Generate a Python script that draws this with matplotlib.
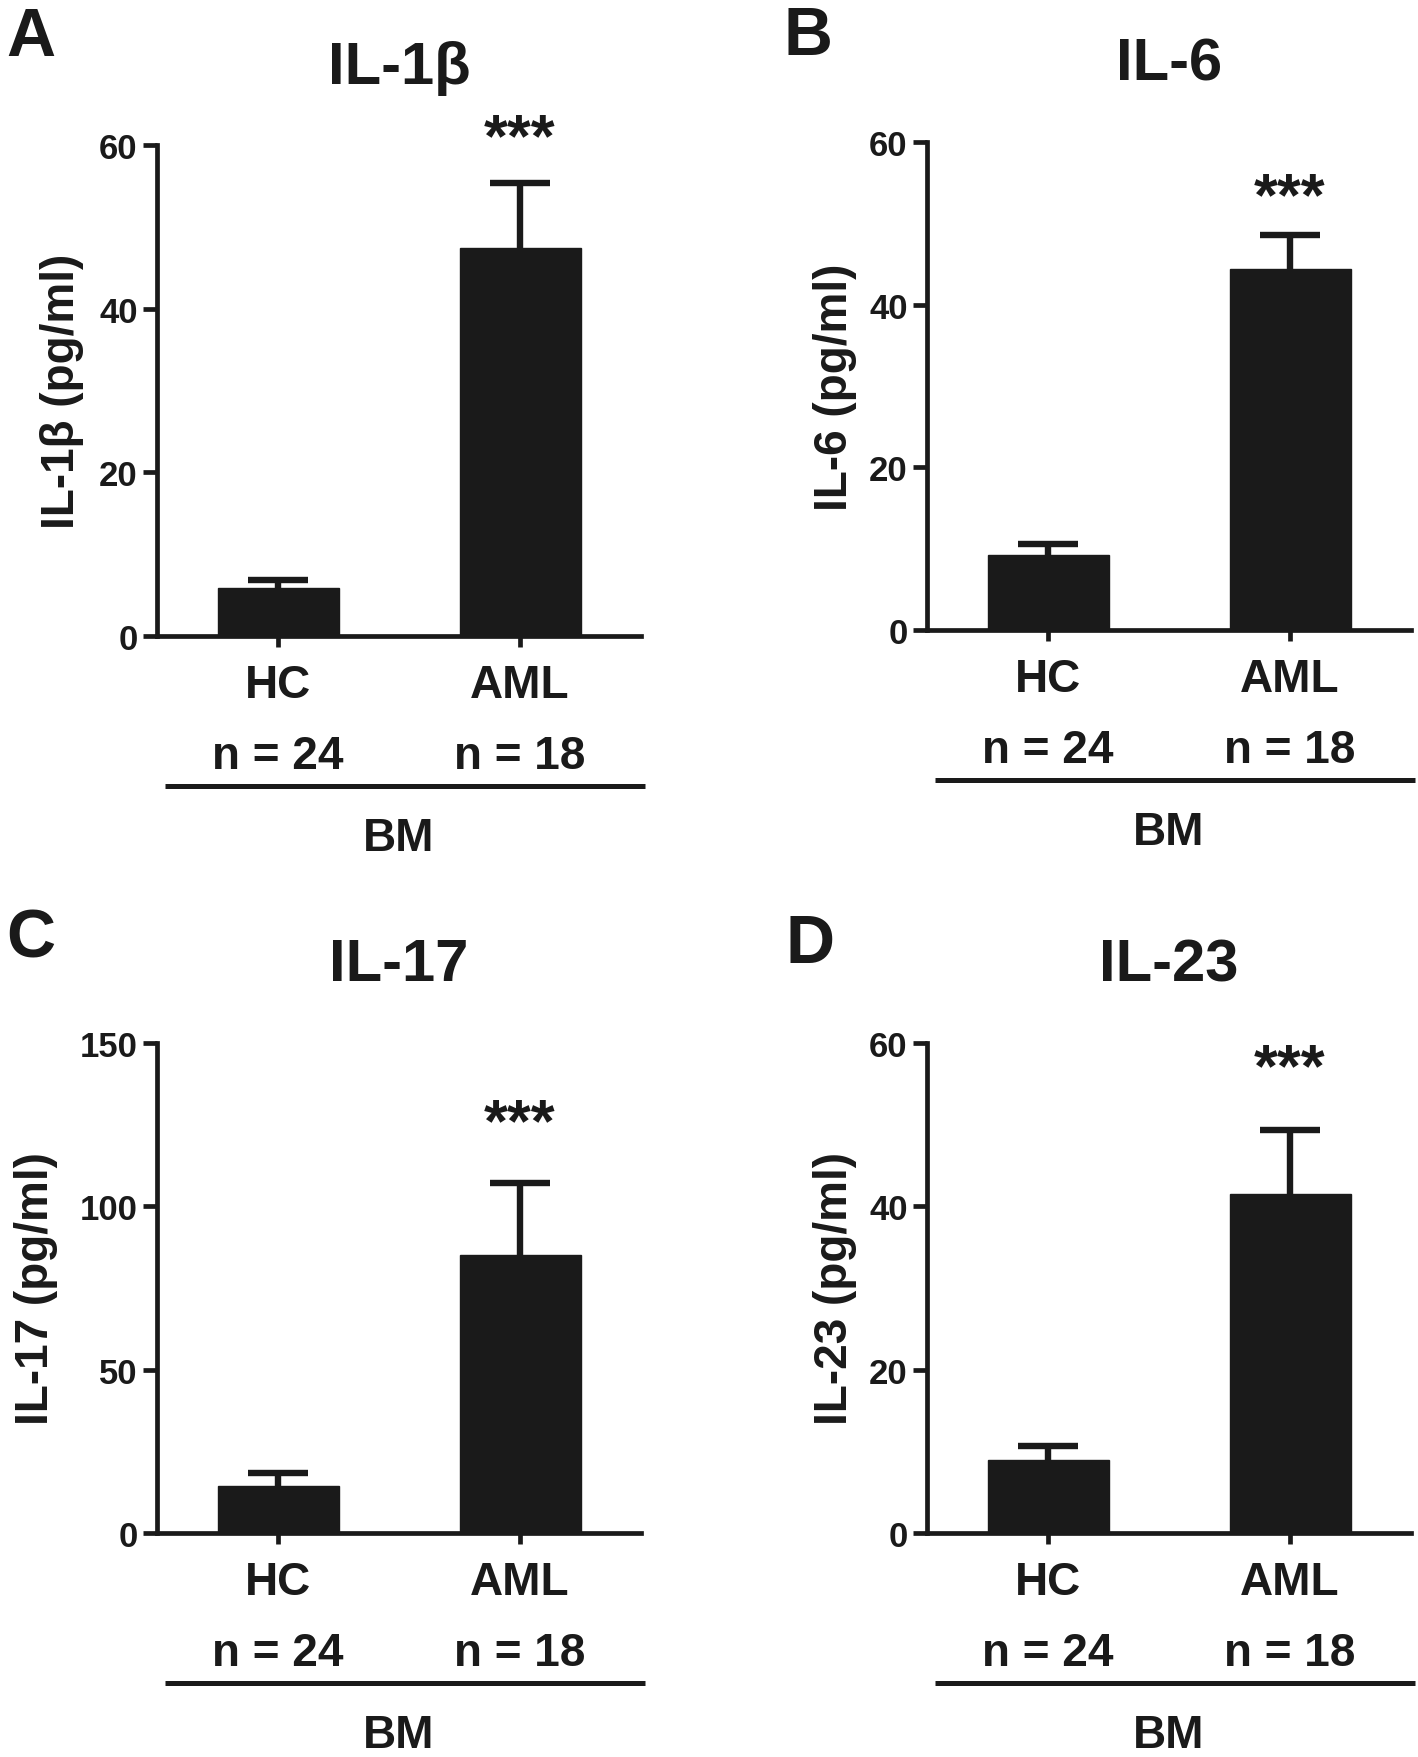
import matplotlib
matplotlib.use("Agg")
import matplotlib.pyplot as plt
import numpy as np

plt.rcParams["font.family"] = ["Liberation Sans", "DejaVu Sans"]
plt.rcParams["font.weight"] = "bold"

INK = "#1a1a1a"

# ---- data -------------------------------------------------------------------
groups = ["HC", "AML"]
n_labels = ["n = 24", "n = 18"]
tissue = "BM"

letters = ["A", "B", "C", "D"]
titles = ["IL-1β", "IL-6", "IL-17", "IL-23"]
ylabels = ["IL-1β (pg/ml)", "IL-6 (pg/ml)", "IL-17 (pg/ml)", "IL-23 (pg/ml)"]

il1b_mean = [5.9, 47.4]
il1b_sem = [0.9, 8.0]
il6_mean = [9.2, 44.4]
il6_sem = [1.4, 4.2]
il17_mean = [14.3, 85.2]
il17_sem = [4.2, 22.0]
il23_mean = [9.0, 41.5]
il23_sem = [1.6, 7.9]

y_max = [60, 60, 150, 60]
y_step = [20, 20, 50, 20]
stars = ["***", "***", "***", "***"]
star_y = [62.1, 54.5, 128.9, 58.2]

means = [il1b_mean, il6_mean, il17_mean, il23_mean]
sems = [il1b_sem, il6_sem, il17_sem, il23_sem]

# ---- layout (figure fractions) -------------------------------------------------
W, H = 1418, 1758
rects = [
    [157 / W, 1 - 637 / H, 484 / W, 491 / H],
    [927 / W, 1 - 631 / H, 484 / W, 488 / H],
    [157 / W, 1 - 1534 / H, 484 / W, 490 / H],
    [927 / W, 1 - 1534 / H, 484 / W, 490 / H],
]
ylabel_x = [-0.150, -0.145, -0.205, -0.145]
letter_pos = [(6, 6), (784, 5), (6, 908), (786, 913)]

fig = plt.figure(figsize=(W / 100, H / 100), dpi=100, facecolor="white")

for i in range(4):
    ax = fig.add_axes(rects[i])
    x = np.arange(len(groups))
    ax.bar(x, means[i], width=0.5, color=INK, edgecolor=INK, zorder=3)
    eb = ax.errorbar(x, means[i], yerr=[np.zeros(len(groups)), sems[i]], fmt="none",
                     ecolor=INK, elinewidth=4.6, capsize=21.5, capthick=4.6, zorder=2)
    eb[1][0].set_visible(False)  # drop the cap sitting on the bar top

    ax.set_xlim(-0.5, 1.5)
    ax.set_ylim(0, y_max[i])
    ax.set_yticks(np.arange(0, y_max[i] + 1, y_step[i]))
    ax.set_xticks(x)
    ax.set_xticklabels([])
    for s in ("top", "right"):
        ax.spines[s].set_visible(False)
    for s in ("left", "bottom"):
        ax.spines[s].set_linewidth(3.4)
        ax.spines[s].set_color(INK)
        ax.spines[s].set_capstyle("projecting")
    ax.tick_params(axis="y", length=10, width=3.4, color=INK, pad=4,
                   labelsize=25, labelcolor=INK)
    ax.tick_params(axis="x", length=8, width=3.4, color=INK)
    for lab in ax.get_yticklabels():
        lab.set_fontweight("bold")

    ax.set_ylabel(ylabels[i], fontsize=33, fontweight="bold", color=INK)
    ax.yaxis.set_label_coords(ylabel_x[i], 0.5)

    # title
    ax.annotate(titles[i], xy=(0.5, 1), xycoords="axes fraction",
                xytext=(0, 45), textcoords="offset points",
                ha="center", va="baseline", fontsize=43, fontweight="bold",
                color=INK)

    # group + n labels under the axis
    for j, g in enumerate(groups):
        ax.annotate(g, xy=(x[j], 0), xycoords=("data", "axes fraction"),
                    xytext=(0, -44), textcoords="offset points",
                    ha="center", va="baseline", fontsize=33,
                    fontweight="bold", color=INK, annotation_clip=False)
        ax.annotate(n_labels[j], xy=(x[j], 0), xycoords=("data", "axes fraction"),
                    xytext=(0, -95), textcoords="offset points",
                    ha="center", va="baseline", fontsize=33,
                    fontweight="bold", color=INK, annotation_clip=False)

    # significance stars over AML
    ax.annotate(stars[i], xy=(x[1], star_y[i]), xycoords="data",
                xytext=(0, -20), textcoords="offset points",
                ha="center", va="baseline", fontsize=44,
                fontweight="bold", color=INK, annotation_clip=False)

    # BM bracket line + label
    line_y = -108 / 72 * 100 / (rects[i][3] * H)
    ax.plot([0.017, 1.008], [line_y, line_y], transform=ax.transAxes,
            color=INK, lw=3.6, clip_on=False, solid_capstyle="butt")
    ax.annotate(tissue, xy=(0.5, 0), xycoords="axes fraction",
                xytext=(0, -154), textcoords="offset points",
                ha="center", va="baseline", fontsize=33,
                fontweight="bold", color=INK, annotation_clip=False)

    lx, ly = letter_pos[i]
    fig.text(lx / W, 1 - ly / H, letters[i], ha="left", va="top",
             fontsize=49, fontweight="bold", color=INK)

fig.savefig("out.png", dpi=100, facecolor="white")
